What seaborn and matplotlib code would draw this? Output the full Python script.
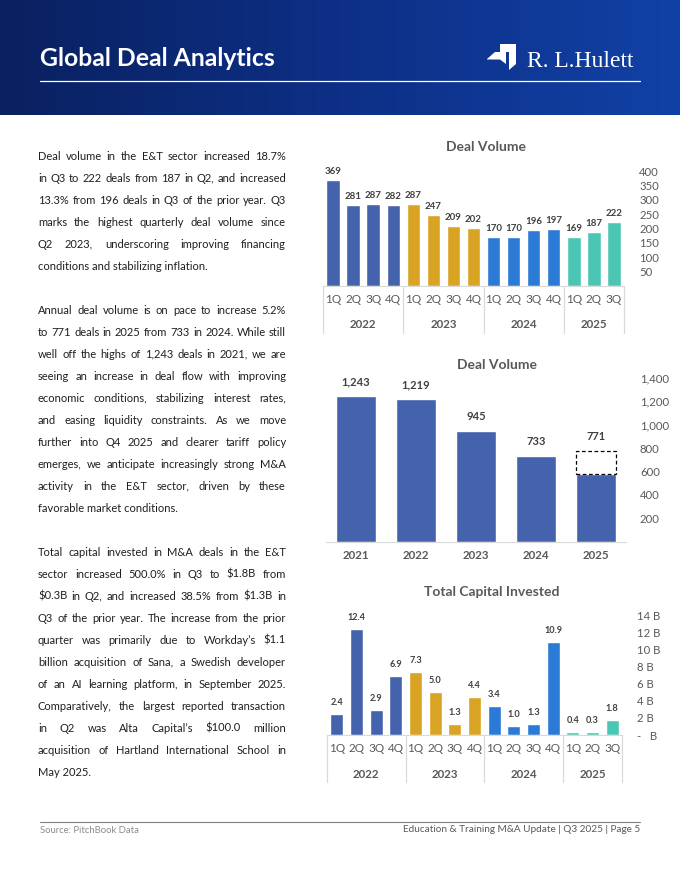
import numpy as np
import pandas as pd
import matplotlib
matplotlib.use("Agg")
import matplotlib.pyplot as plt
from matplotlib.colors import LinearSegmentedColormap
from matplotlib.patches import Polygon
import seaborn as sns

W, H = 680, 880

# ---- data ----
quarters = ["1Q", "2Q", "3Q", "4Q", "1Q", "2Q", "3Q", "4Q",
            "1Q", "2Q", "3Q", "4Q", "1Q", "2Q", "3Q"]
quarter_year = ["2022"] * 4 + ["2023"] * 4 + ["2024"] * 4 + ["2025"] * 3
deals_q = [369, 281, 287, 282, 287, 247, 209, 202, 170, 170, 196, 197, 169, 187, 222]
capital_q = [2.4, 12.4, 2.9, 6.9, 7.3, 5.0, 1.3, 4.4, 3.4, 1.0, 1.3, 10.9, 0.4, 0.3, 1.8]
annual_years = ["2021", "2022", "2023", "2024", "2025"]
annual_deals = [1243, 1219, 945, 733, 578]
projected_2025 = 771

palette = {"2022": "#4562AC", "2023": "#D9A323", "2024": "#2B7BD6", "2025": "#4CC6B4"}
GRAY = "#595959"
LABEL = "#404040"
LINE = "#d9d9d9"

para1 = ["Deal volume in the E&T sector increased 18.7%",
         "in Q3 to 222 deals from 187 in Q2, and increased",
         "13.3% from 196 deals in Q3 of the prior year. Q3",
         "marks the highest quarterly deal volume since",
         "Q2 2023, underscoring improving financing",
         "conditions and stabilizing inflation."]
para2 = ["Annual deal volume is on pace to increase 5.2%",
         "to 771 deals in 2025 from 733 in 2024. While still",
         "well off the highs of 1,243 deals in 2021, we are",
         "seeing an increase in deal flow with improving",
         "economic conditions, stabilizing interest rates,",
         "and easing liquidity constraints. As we move",
         "further into Q4 2025 and clearer tariff policy",
         "emerges, we anticipate increasingly strong M&A",
         "activity in the E&T sector, driven by these",
         "favorable market conditions."]
para3 = ["Total capital invested in M&A deals in the E&T",
         "sector increased 500.0% in Q3 to $1.8B from",
         "$0.3B in Q2, and increased 38.5% from $1.3B in",
         "Q3 of the prior year. The increase from the prior",
         "quarter was primarily due to Workday\u2019s $1.1",
         "billion acquisition of Sana, a Swedish developer",
         "of an AI learning platform, in September 2025.",
         "Comparatively, the largest reported transaction",
         "in Q2 was Alta Capital\u2019s $100.0 million",
         "acquisition of Hartland International School in",
         "May 2025."]

sns.set_style("white")
plt.rcParams["font.family"] = ["Lato", "DejaVu Sans"]

fig = plt.figure(figsize=(W / 100, H / 100), dpi=100)
fig.patch.set_facecolor("white")


def fy(y):
    return 1 - y / H


def axes_px(l, t, r, b):
    return fig.add_axes([l / W, 1 - b / H, (r - l) / W, (b - t) / H])


# ---- header band ----
hdr = axes_px(0, 0, W, 115)
cmap = LinearSegmentedColormap.from_list("hdr", ["#0a2160", "#0d2f86", "#1141a6"])
hdr.imshow(np.linspace(0, 1, 256).reshape(1, -1), aspect="auto", cmap=cmap,
           extent=[0, 1, 0, 1])
hdr.set_axis_off()
fig.text(40 / W, fy(66), "Global Deal Analytics", color="white", fontsize=17.8,
         fontweight="bold", va="baseline")
fig.add_artist(plt.Line2D([40 / W, 640 / W], [fy(81), fy(81)], color="white", lw=0.9))
logo_a = [(500, 44), (516, 44), (516, 64), (509, 70), (509, 52), (500, 52)]
logo_b = [(487, 59), (495, 52), (506, 52), (506, 64), (500, 59.5), (487, 59.5)]
for pts in (logo_a, logo_b):
    fig.add_artist(Polygon([(x / W, fy(y)) for x, y in pts], closed=True,
                           facecolor="white", edgecolor="none"))
fig.text(527 / W, fy(67), "R. L.Hulett", color="white", fontsize=17,
         family=["Liberation Serif", "DejaVu Serif"], va="baseline")

# ---- body text (justified) ----
renderer = fig.canvas.get_renderer()
X0, X1 = 38, 286
BODY = dict(fontsize=8.0, color="#1f1f1f", va="baseline")


def paragraph(lines, first_line):
    for i, line in enumerate(lines):
        yb = 159.5 + 22 * (first_line + i)
        if i == len(lines) - 1:
            fig.text(X0 / W, fy(yb), line, **BODY)
            continue
        words = line.split()
        ts = [fig.text(0, fy(yb), w, **BODY) for w in words]
        widths = [t.get_window_extent(renderer).width for t in ts]
        gap = (X1 - X0 - sum(widths)) / (len(words) - 1)
        x = X0
        for t, w in zip(ts, widths):
            t.set_x(x / W)
            x += w + gap


paragraph(para1, 0)
paragraph(para2, 7)
paragraph(para3, 18)


# ---- quarterly charts ----
def quarterly(ax, values, top, step, ytick_fmt, lbl_fmt, lbl_pad, lbl_size):
    df = pd.DataFrame({"slot": [f"{y} {q}" for y, q in zip(quarter_year, quarters)],
                       "value": values, "year": quarter_year})
    sns.barplot(data=df, x="slot", y="value", hue="year", palette=palette,
                dodge=False, width=0.67, saturation=1, legend=False, ax=ax)
    ax.set_xlim(-0.5, len(values) - 0.5)
    ax.set_ylim(0, top)
    ax.set_xticks(range(len(values)))
    ax.set_xticklabels(quarters)
    ax.set_xlabel("")
    ax.set_ylabel("")
    ax.yaxis.tick_right()
    ticks = np.arange(0, top + step / 2, step)
    ax.set_yticks(ticks)
    ax.set_yticklabels([ytick_fmt(v) for v in ticks])
    ax.tick_params(axis="x", length=0, pad=6, labelsize=8.5, labelcolor=GRAY)
    ax.tick_params(axis="y", length=0, pad=11, labelsize=8.2, labelcolor=GRAY)
    sns.despine(ax=ax, left=True, right=True, top=True)
    ax.spines["bottom"].set_color(LINE)
    for cont in ax.containers:
        ax.bar_label(cont, fmt=lbl_fmt, padding=lbl_pad, fontsize=lbl_size,
                     fontweight="bold", color=LABEL)
    ax_h = ax.get_window_extent(renderer).height
    bounds = [-0.5]
    for i in range(1, len(quarter_year)):
        if quarter_year[i] != quarter_year[i - 1]:
            bounds.append(i - 0.5)
    bounds.append(len(values) - 0.5)
    for b in bounds:
        ax.plot([b, b], [0, -47 / ax_h], transform=ax.get_xaxis_transform(),
                clip_on=False, color=LINE, lw=0.9)
    for yr in palette:
        idx = [i for i, y in enumerate(quarter_year) if y == yr]
        ax.annotate(yr, xy=(np.mean(idx), 0), xycoords=("data", "axes fraction"),
                    xytext=(0, -39), textcoords="offset pixels", ha="center",
                    va="center", fontsize=8.3, fontweight="bold", color=GRAY)


ax1 = axes_px(323, 171.4, 624, 285.7)
quarterly(ax1, deals_q, 400, 50, lambda v: "" if v == 0 else f"{v:.0f}",
          "%d", 3, 7)
fig.text(486 / W, fy(147), "Deal Volume", ha="center", va="center",
         fontsize=10, fontweight="bold", color=GRAY)

ax3 = axes_px(327, 615, 622, 735)
quarterly(ax3, capital_q, 14, 2,
          lambda v: "-   B" if v == 0 else f"{v:.0f} B", "%.1f", 5, 6.6)
fig.text(492 / W, fy(592), "Total Capital Invested", ha="center", va="center",
         fontsize=10, fontweight="bold", color=GRAY)

# ---- annual chart ----
ax2 = axes_px(326, 378, 626, 541.5)
sns.barplot(x=annual_years, y=annual_deals, color=palette["2022"], width=0.67,
            saturation=1, ax=ax2)
ax2.bar(len(annual_years) - 1, projected_2025 - annual_deals[-1], width=0.67,
        bottom=annual_deals[-1], facecolor="white", edgecolor="black",
        linestyle=(0, (3, 2)), lw=0.9)
labels = [f"{v:,}" for v in annual_deals[:-1]] + [f"{projected_2025:,}"]
tops = annual_deals[:-1] + [projected_2025]
for i, (t, lab) in enumerate(zip(tops, labels)):
    ax2.annotate(lab, xy=(i, t), xytext=(0, 9), textcoords="offset pixels",
                 ha="center", va="bottom", fontsize=8, fontweight="bold", color=LABEL)
ax2.set_xlim(-0.5, 4.5)
ax2.set_ylim(0, 1400)
ax2.yaxis.tick_right()
ax2.set_yticks(range(0, 1401, 200))
ax2.set_yticklabels(["" if v == 0 else f"{v:,}" for v in range(0, 1401, 200)])
ax2.tick_params(axis="x", length=0, pad=6, labelsize=8.3, labelcolor=GRAY)
ax2.tick_params(axis="y", length=0, pad=10, labelsize=8.2, labelcolor=GRAY)
for lab in ax2.get_xticklabels():
    lab.set_fontweight("bold")
sns.despine(ax=ax2, left=True, right=True, top=True)
ax2.spines["bottom"].set_color(LINE)
fig.text(497 / W, fy(365), "Deal Volume", ha="center", va="center",
         fontsize=10, fontweight="bold", color=GRAY)

# ---- footer ----
fig.add_artist(plt.Line2D([40 / W, 640 / W], [fy(822), fy(822)], color="#7f7f7f", lw=0.8))
fig.text(40 / W, fy(830), "Source: PitchBook Data", fontsize=6.8, color="#8c8c8c",
         va="center")
fig.text(640 / W, fy(829), "Education & Training M&A Update | Q3 2025 | Page 5",
         fontsize=7.2, color=GRAY, va="center", ha="right")

fig.savefig("out.png", dpi=100)
